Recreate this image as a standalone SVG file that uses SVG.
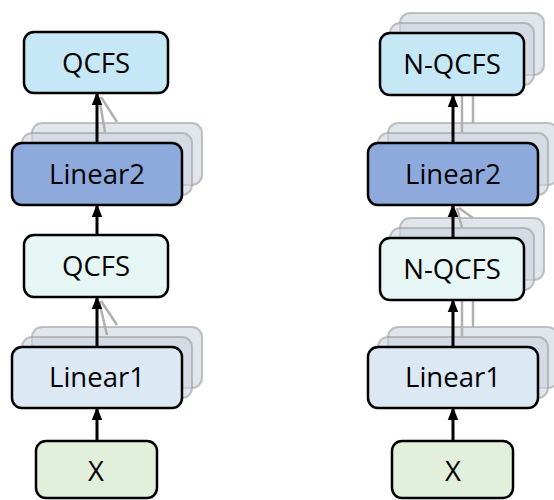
<svg xmlns="http://www.w3.org/2000/svg" width="554" height="500" viewBox="0 0 554 500">
<defs>
<style>
.box{stroke:#000;stroke-width:2.5}
.ghost{fill:#cdd3df;fill-opacity:0.6;stroke:#9c9c9c;stroke-opacity:0.6;stroke-width:2}
.gl{stroke:#b0b0b0;stroke-width:2.5;fill:none}
.arr{stroke:#000;stroke-width:3;fill:none;marker-end:url(#ah)}
text{font-family:"Open Sans","Noto Sans",sans-serif;font-size:27.5px;fill:#000;text-anchor:middle}
</style>
<marker id="ah" markerWidth="4.5" markerHeight="4" refX="3.8" refY="2" orient="auto" markerUnits="strokeWidth">
<path d="M0,0.2 L4.5,2 L0,3.8 Z" fill="#000"/>
</marker>
</defs>
<g id="ghosts-left">
<rect class="ghost" x="32" y="123" width="170" height="62" rx="10"/>
<rect class="ghost" x="22" y="133" width="170" height="62" rx="10"/>
<rect class="ghost" x="32" y="327" width="170" height="61" rx="10"/>
<rect class="ghost" x="22" y="337" width="170" height="61" rx="10"/>
</g>
<g id="ghosts-right">
<rect class="ghost" x="400" y="13" width="144" height="62" rx="10"/>
<rect class="ghost" x="390" y="23" width="144" height="62" rx="10"/>
<rect class="ghost" x="388" y="123" width="170" height="62" rx="10"/>
<rect class="ghost" x="378" y="133" width="170" height="62" rx="10"/>
<rect class="ghost" x="400" y="218" width="144" height="62" rx="10"/>
<rect class="ghost" x="390" y="228" width="144" height="62" rx="10"/>
<rect class="ghost" x="388" y="327" width="170" height="61" rx="10"/>
<rect class="ghost" x="378" y="337" width="170" height="61" rx="10"/>
</g>
<g id="ghost-connectors">
<line class="gl" x1="105" y1="132" x2="99" y2="97"/>
<line class="gl" x1="117" y1="122" x2="101" y2="97"/>
<line class="gl" x1="107" y1="335" x2="99" y2="301"/>
<line class="gl" x1="117" y1="325" x2="101" y2="301"/>
<line class="gl" x1="462" y1="85" x2="462" y2="133"/>
<line class="gl" x1="473" y1="75" x2="473" y2="123"/>
<line class="gl" x1="462" y1="228" x2="457" y2="208"/>
<line class="gl" x1="473" y1="218" x2="459" y2="208"/>
<line class="gl" x1="462" y1="290" x2="462" y2="337"/>
<line class="gl" x1="473" y1="280" x2="473" y2="327"/>
</g>
<g id="connectors">
<line class="arr" x1="97" y1="441" x2="97" y2="409"/>
<line class="arr" x1="97" y1="347" x2="97" y2="298"/>
<line class="arr" x1="97" y1="235" x2="97" y2="206"/>
<line class="arr" x1="97" y1="143" x2="97" y2="94"/>
<line class="arr" x1="453" y1="441" x2="453" y2="409"/>
<line class="arr" x1="453" y1="347" x2="453" y2="301"/>
<line class="arr" x1="453" y1="238" x2="453" y2="206"/>
<line class="arr" x1="453" y1="143" x2="453" y2="96"/>
</g>
<g id="l-qcfs2"><rect class="box" x="24" y="32" width="144" height="61" rx="10" fill="#c5e7f6"/><text x="96" y="73">QCFS</text></g>
<g id="l-linear2"><rect class="box" x="12" y="143" width="170" height="62" rx="10" fill="#8eaadc"/><text x="97" y="184">Linear2</text></g>
<g id="l-qcfs1"><rect class="box" x="24" y="235" width="144" height="62" rx="10" fill="#e5f6f5"/><text x="96" y="276">QCFS</text></g>
<g id="l-linear1"><rect class="box" x="12" y="347" width="170" height="61" rx="10" fill="#dde8f5"/><text x="97" y="387">Linear1</text></g>
<g id="l-x"><rect class="box" x="36" y="441" width="121" height="57" rx="10" fill="#e2efda"/><text x="96" y="481">X</text></g>
<g id="r-nqcfs2"><rect class="box" x="380" y="33" width="144" height="62" rx="10" fill="#c5e7f6"/><text x="452" y="74">N-QCFS</text></g>
<g id="r-linear2"><rect class="box" x="368" y="143" width="170" height="62" rx="10" fill="#8eaadc"/><text x="453" y="184">Linear2</text></g>
<g id="r-nqcfs1"><rect class="box" x="380" y="238" width="144" height="62" rx="10" fill="#e5f6f5"/><text x="452" y="279">N-QCFS</text></g>
<g id="r-linear1"><rect class="box" x="368" y="347" width="170" height="61" rx="10" fill="#dde8f5"/><text x="453" y="387">Linear1</text></g>
<g id="r-x"><rect class="box" x="392" y="441" width="121" height="57" rx="10" fill="#e2efda"/><text x="453" y="481">X</text></g>
</svg>
